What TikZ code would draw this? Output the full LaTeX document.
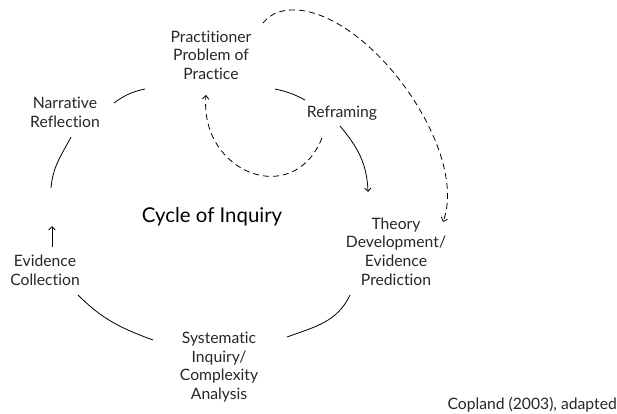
\documentclass[tikz,border=0pt]{standalone}
\usepackage{fontspec}
\setmainfont{Lato}[Ligatures=NoCommon]
\usepackage{tikz}
\usetikzlibrary{arrows.meta,calc}

\begin{document}
\begin{tikzpicture}[x=1pt,y=1pt,
    lbl/.style={align=center,inner sep=0pt,text=black!85,font=\fontsize{15.7}{18.6}\selectfont},
    conn/.style={line width=0.8pt},
    dconn/.style={line width=0.8pt,dash pattern=on 6pt off 4pt},
    tip/.style={-{Straight Barb[length=3.5pt,width=6.5pt]}}]
  \useasboundingbox (0,0) rectangle (617,414);
  % stages of the cycle
  \node[lbl] (prac) at (211,359) {Practitioner\\Problem of\\Practice};
  \node[lbl] (narr) at (65,301.5) {Narrative\\Reflection};
  \node[lbl] (refr) at (342,300.5) {Reframing};
  \node[lbl] (theo) at (396,162.6) {Theory\\Development/\\Evidence\\Prediction};
  \node[lbl] (evid) at (45,144) {Evidence\\Collection};
  \node[lbl] (syst) at (219,46.7) {Systematic\\Inquiry/\\Complexity\\Analysis};
  \node[inner sep=0pt,font=\fontsize{20.4}{23}\selectfont] (title) at (212,197) {Cycle of Inquiry};
  \node[lbl,anchor=east] (src) at (617,9) {Copland (2003), adapted};
  \coordinate (uptip) at (52,188);
  \coordinate (arcend) at (51,226);
  % circle segments
  \draw[conn] ($(narr)+(49,9.5)$) to[bend left=12] ($(prac)+(-66,-34)$);
  \draw[conn] ($(prac)+(64,-34)$) to[bend left=8] ($(refr)+(-37,13.5)$);
  \draw[conn,tip] ($(refr)+(-2,-12.5)$) to[out=-50,in=92] ($(theo)+(-28,59.4)$);
  \draw[conn] ($(theo)+(-46,-43.6)$) to[out=-115,in=20] ($(syst)+(68,30.3)$);
  \draw[conn] ($(syst)+(-66,27.3)$) to[out=160,in=-45] ($(evid)+(33,-25)$);
  \draw[conn,tip] ($(evid)+(7,23)$) -- (uptip);
  \draw[conn] ($(narr)+(6,-24.5)$) to[out=-118,in=85] (arcend);
  % dashed loops
  \draw[dconn,tip] ($(refr)+(-20,-24.5)$) to[out=-112,in=-95,looseness=1.6] ($(prac)+(-5,-40)$);
  \draw[dconn,tip] ($(prac)+(52,32)$) to[out=50,in=178] (297,404)
    to[out=-4,in=70,looseness=0.75] ($(theo)+(47,29.4)$);
\end{tikzpicture}
\end{document}
